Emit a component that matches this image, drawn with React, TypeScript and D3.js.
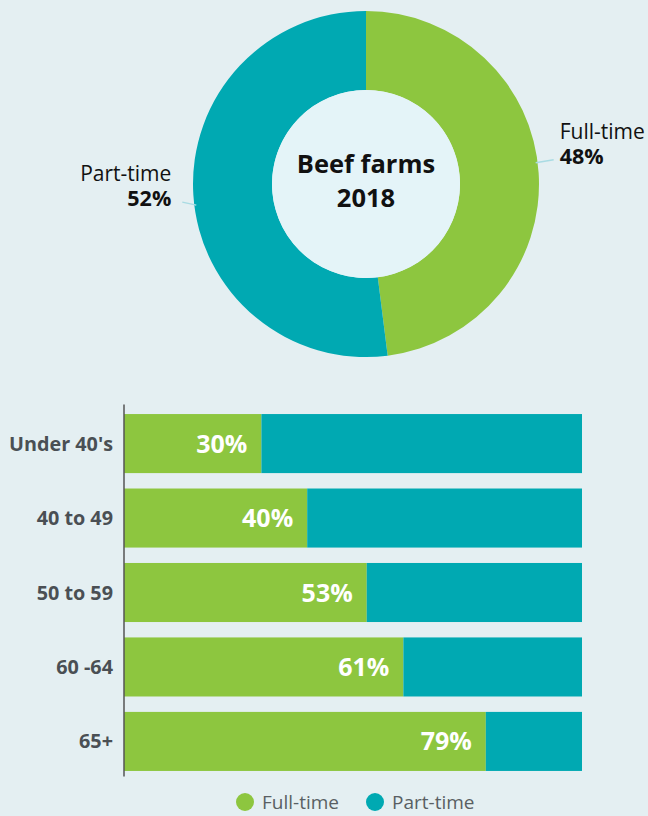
import React from 'react';
import * as d3 from 'd3';

const pieCategories = ['Full-time', 'Part-time'];
const pieValues = [48, 52];
const centerTitle = ['Beef farms', '2018'];
const ageGroups = ["Under 40's", '40 to 49', '50 to 59', '60 -64', '65+'];
const fullTimeShare = [30, 40, 53, 61, 79];
const partTimeShare = [70, 60, 47, 39, 21];
const legendLabels = ['Full-time', 'Part-time'];

const W = 648;
const H = 816;
const BG = '#e4eff2';
const GREEN = '#8dc63f';
const TEAL = '#00a9b2';
const FONT = "'Open Sans', 'Noto Sans', sans-serif";

export default function App() {
  const cx = 366, cy = 184, R = 173, r = 94;
  const pie = d3.pie<number>().sort(null).value((d) => d);
  const arcs = pie(pieValues);
  const arc = d3.arc<d3.PieArcDatum<number>>().innerRadius(r).outerRadius(R);
  const colors = [GREEN, TEAL];

  const x = d3.scaleLinear().domain([0, 100]).range([124, 582]);
  const y = d3.scaleBand<string>().domain(ageGroups).range([406.6, 778.4]).paddingInner(0.207).paddingOuter(0.1);
  const [y0, y1] = y.range();

  const polar = (a: number, rad: number) => [cx + Math.sin(a) * rad, cy - Math.cos(a) * rad];

  return (
    <svg width={W} height={H} style={{ position: 'absolute', left: 0, top: 0, display: 'block' }} fontFamily={FONT}>
      <rect x={0} y={0} width={W} height={H} fill={BG} />
      <g>
        {arcs.map((a, i) => (
          <path key={i} d={arc(a) || ''} transform={`translate(${cx},${cy})`} fill={colors[i]} />
        ))}
        <circle cx={cx} cy={cy} r={r} fill="#e4f4f8" />
        <text textAnchor="middle" fontWeight="bold" fontSize={25.5} fill="#111">
          <tspan x={cx} y={cy - 11}>{centerTitle[0]}</tspan>
          <tspan x={cx} y={cy + 23}>{centerTitle[1]}</tspan>
        </text>
        {arcs.map((a, i) => {
          const mid = (a.startAngle + a.endAngle) / 2 - (3.5 * Math.PI) / 180;
          const right = Math.sin(mid) > 0;
          const [sx, sy] = polar(mid, R - 2);
          const ex = right ? sx + 18 : sx - 14;
          const ey = sy - 3;
          const tx = right ? ex + 6 : ex - 11;
          return (
            <g key={i}>
              <line x1={sx} y1={sy} x2={ex} y2={ey} stroke="#a9dbe3" strokeWidth={1.5} />
              <text textAnchor={right ? 'start' : 'end'} fill="#111">
                <tspan x={tx} y={ey - 21} fontSize={21}>{pieCategories[i]}</tspan>
                <tspan x={tx} y={ey + 4} fontSize={21.5} fontWeight="bold">{`${pieValues[i]}%`}</tspan>
              </text>
            </g>
          );
        })}
      </g>
      <g>
        {ageGroups.map((g, i) => {
          const by = y(g)!;
          const bh = y.bandwidth();
          return (
            <g key={g}>
              <rect x={x(0)} y={by} width={x(fullTimeShare[i]) - x(0)} height={bh} fill={GREEN} />
              <rect x={x(fullTimeShare[i])} y={by} width={x(fullTimeShare[i] + partTimeShare[i]) - x(fullTimeShare[i])} height={bh} fill={TEAL} />
              <text x={x(fullTimeShare[i]) - 14} y={by + bh / 2 + 9} textAnchor="end" fontSize={25} fontWeight="bold" fill="#fff">{`${fullTimeShare[i]}%`}</text>
              <text x={x(0) - 11} y={by + bh / 2 + 7} textAnchor="end" fontSize={19.8} fontWeight="bold" fill="#4a4f54">{g}</text>
            </g>
          );
        })}
        <line x1={x(0)} x2={x(0)} y1={y0 - 2} y2={y1 - 2} stroke="#555" strokeWidth={1.5} />
      </g>
      <g>
        {legendLabels.map((l, i) => {
          const lx = i === 0 ? 245 : 375;
          return (
            <g key={l}>
              <circle cx={lx} cy={802} r={9} fill={colors[i]} />
              <text x={lx + 17} y={809} fontSize={19} fill="#595f63">{l}</text>
            </g>
          );
        })}
      </g>
    </svg>
  );
}
